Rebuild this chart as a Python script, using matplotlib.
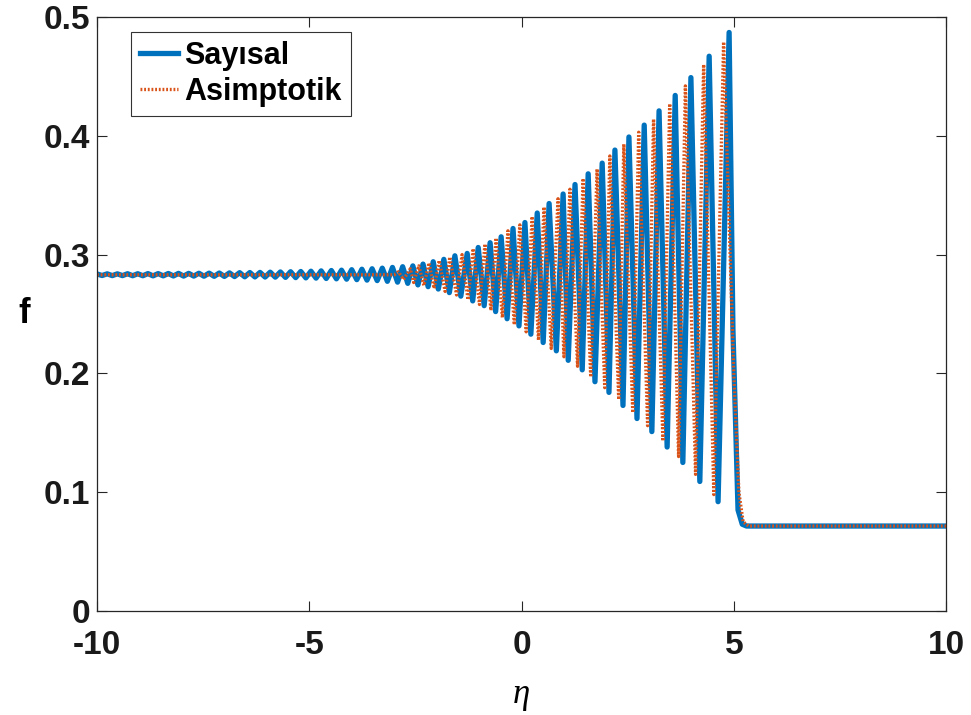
import numpy as np
import matplotlib
matplotlib.use('Agg')
import matplotlib.pyplot as plt

# Sayisal cozum: tepe ve cukur noktalari
num_peak_x = [-10.0, -9.76, -9.52, -9.28, -9.04, -8.80, -8.56, -8.32, -8.08, -7.84,
              -7.60, -7.36, -7.12, -6.88, -6.64, -6.40, -6.16, -5.92, -5.68, -5.44,
              -5.20, -4.96, -4.72, -4.48, -4.24, -4.00, -3.76, -3.52, -3.28, -3.04,
              -2.80, -2.56, -2.32, -2.08, -1.83, -1.57, -1.28, -1.02, -0.74, -0.48,
              -0.20, 0.08, 0.37, 0.65, 0.98, 1.26, 1.57, 1.90, 2.20, 2.53,
              2.89, 3.24, 3.62, 3.99, 4.42, 4.89]
num_peak_y = [0.2837, 0.2838, 0.2838, 0.2839, 0.2839, 0.2840, 0.2840, 0.2841, 0.2842, 0.2842,
              0.2843, 0.2844, 0.2845, 0.2846, 0.2848, 0.2849, 0.2850, 0.2852, 0.2854, 0.2856,
              0.2858, 0.2860, 0.2863, 0.2866, 0.2869, 0.2873, 0.2877, 0.2881, 0.2886, 0.2892,
              0.2898, 0.2905, 0.292, 0.294, 0.296, 0.299, 0.301, 0.306, 0.310, 0.315,
              0.322, 0.327, 0.335, 0.343, 0.351, 0.359, 0.368, 0.377, 0.388, 0.399,
              0.409, 0.421, 0.434, 0.449, 0.467, 0.487]
num_trough_x = [-9.88, -9.64, -9.40, -9.16, -8.92, -8.68, -8.44, -8.20, -7.96, -7.72,
                -7.48, -7.24, -7.00, -6.76, -6.52, -6.28, -6.04, -5.80, -5.56, -5.32,
                -5.08, -4.84, -4.60, -4.36, -4.12, -3.88, -3.64, -3.40, -3.16, -2.92,
                -2.68, -2.44, -2.20, -1.96, -1.70, -1.43, -1.15, -0.88, -0.61, -0.34,
                -0.06, 0.22, 0.51, 0.82, 1.10, 1.43, 1.73, 2.06, 2.39, 2.72,
                3.07, 3.43, 3.80, 4.20, 4.63]
num_trough_y = [0.2824, 0.2823, 0.2823, 0.2822, 0.2822, 0.2821, 0.2821, 0.2820, 0.2819, 0.2819,
                0.2818, 0.2817, 0.2816, 0.2815, 0.2813, 0.2812, 0.2811, 0.2810, 0.2808, 0.2806,
                0.2804, 0.2802, 0.2799, 0.2796, 0.2793, 0.2789, 0.2785, 0.2781, 0.2775, 0.2768,
                0.2758, 0.2745, 0.273, 0.271, 0.268, 0.265, 0.261, 0.257, 0.252, 0.246,
                0.240, 0.233, 0.226, 0.219, 0.211, 0.203, 0.193, 0.184, 0.173, 0.162,
                0.151, 0.138, 0.125, 0.109, 0.092]
num_tail_x = [4.98, 5.10, 5.20, 5.30, 10.0]
num_tail_y = [0.237, 0.085, 0.073, 0.0715, 0.0715]

# Asimptotik cozum
asy_head_x = [-10.0, -3.0]
asy_head_y = [0.283, 0.283]
asy_peak_x = [-2.90, -2.62, -2.42, -2.18, -1.94, -1.69, -1.40, -1.14, -0.86, -0.60,
              -0.32, -0.04, 0.25, 0.53, 0.86, 1.14, 1.45, 1.78, 2.08, 2.41,
              2.76, 3.11, 3.49, 3.86, 4.29, 4.76]
asy_peak_y = [0.2855, 0.288, 0.2905, 0.293, 0.295, 0.298, 0.300, 0.305, 0.309, 0.314,
              0.320, 0.325, 0.332, 0.340, 0.347, 0.355, 0.364, 0.372, 0.383, 0.393,
              0.403, 0.414, 0.427, 0.442, 0.460, 0.479]
asy_trough_x = [-2.78, -2.54, -2.30, -2.06, -1.80, -1.53, -1.26, -0.99, -0.72, -0.45,
                -0.17, 0.11, 0.40, 0.70, 1.00, 1.32, 1.63, 1.96, 2.29, 2.62,
                2.97, 3.33, 3.70, 4.10, 4.53]
asy_trough_y = [0.279, 0.2765, 0.274, 0.2715, 0.269, 0.266, 0.262, 0.258, 0.253, 0.247,
                0.241, 0.235, 0.228, 0.221, 0.214, 0.206, 0.197, 0.188, 0.178, 0.167,
                0.156, 0.143, 0.130, 0.115, 0.098]
asy_tail_x = [5.00, 5.12, 5.22, 5.35, 10.0]
asy_tail_y = [0.20, 0.10, 0.075, 0.0715, 0.0715]


def merge(*parts):
    xs = np.concatenate([p[0] for p in parts])
    ys = np.concatenate([p[1] for p in parts])
    o = np.argsort(xs, kind='stable')
    return xs[o], ys[o]


nx, ny = merge((num_peak_x, num_peak_y), (num_trough_x, num_trough_y), (num_tail_x, num_tail_y))
ax_, ay_ = merge((asy_head_x, asy_head_y), (asy_peak_x, asy_peak_y),
                 (asy_trough_x, asy_trough_y), (asy_tail_x, asy_tail_y))

plt.rcParams['font.family'] = ['Liberation Sans', 'DejaVu Sans']
plt.rcParams['font.weight'] = 'bold'

fig = plt.figure(figsize=(9.71, 7.15), dpi=100)
ax = fig.add_axes([0.0999, 0.1455, 0.8744, 0.8307])

ax.plot(nx, ny, color='#0072BD', lw=3.8, solid_joinstyle='round', label='Sayısal')
ax.plot(ax_, ay_, color='#D95319', lw=2.4, ls=(0, (0.55, 0.55)), label='Asimptotik')

ax.set_xlim(-10, 10)
ax.set_ylim(0, 0.5)
ax.set_xticks([-10, -5, 0, 5, 10])
ax.set_yticks([0, 0.1, 0.2, 0.3, 0.4, 0.5])
ax.set_xticklabels(['-10', '-5', '0', '5', '10'])
ax.set_yticklabels(['0', '0.1', '0.2', '0.3', '0.4', '0.5'])
ax.tick_params(direction='in', length=7, width=0.8, top=True, right=True,
               labelsize=24, colors='#262626')
ax.tick_params(axis='x', pad=14)
ax.tick_params(axis='y', pad=5)
for lab in ax.get_xticklabels() + ax.get_yticklabels():
    lab.set_color('#1a1a1a')
for s in ax.spines.values():
    s.set_color('#262626')
    s.set_linewidth(0.9)

ax.set_xlabel('η', family='Liberation Serif', style='italic', fontweight='normal',
              fontsize=25, labelpad=12)
ax.set_ylabel('f', fontsize=25, fontweight='bold', rotation=0, labelpad=14, va='center')

leg = ax.legend(loc='upper left', bbox_to_anchor=(0.040, 0.975),
                prop={'size': 22, 'weight': 'bold'},
                handlelength=1.25, handletextpad=0.2, labelspacing=0.2,
                borderpad=0.3, borderaxespad=0, fancybox=False, frameon=True)
leg.get_frame().set_edgecolor('black')
leg.get_frame().set_linewidth(0.8)

fig.savefig('out.png', dpi=100)
